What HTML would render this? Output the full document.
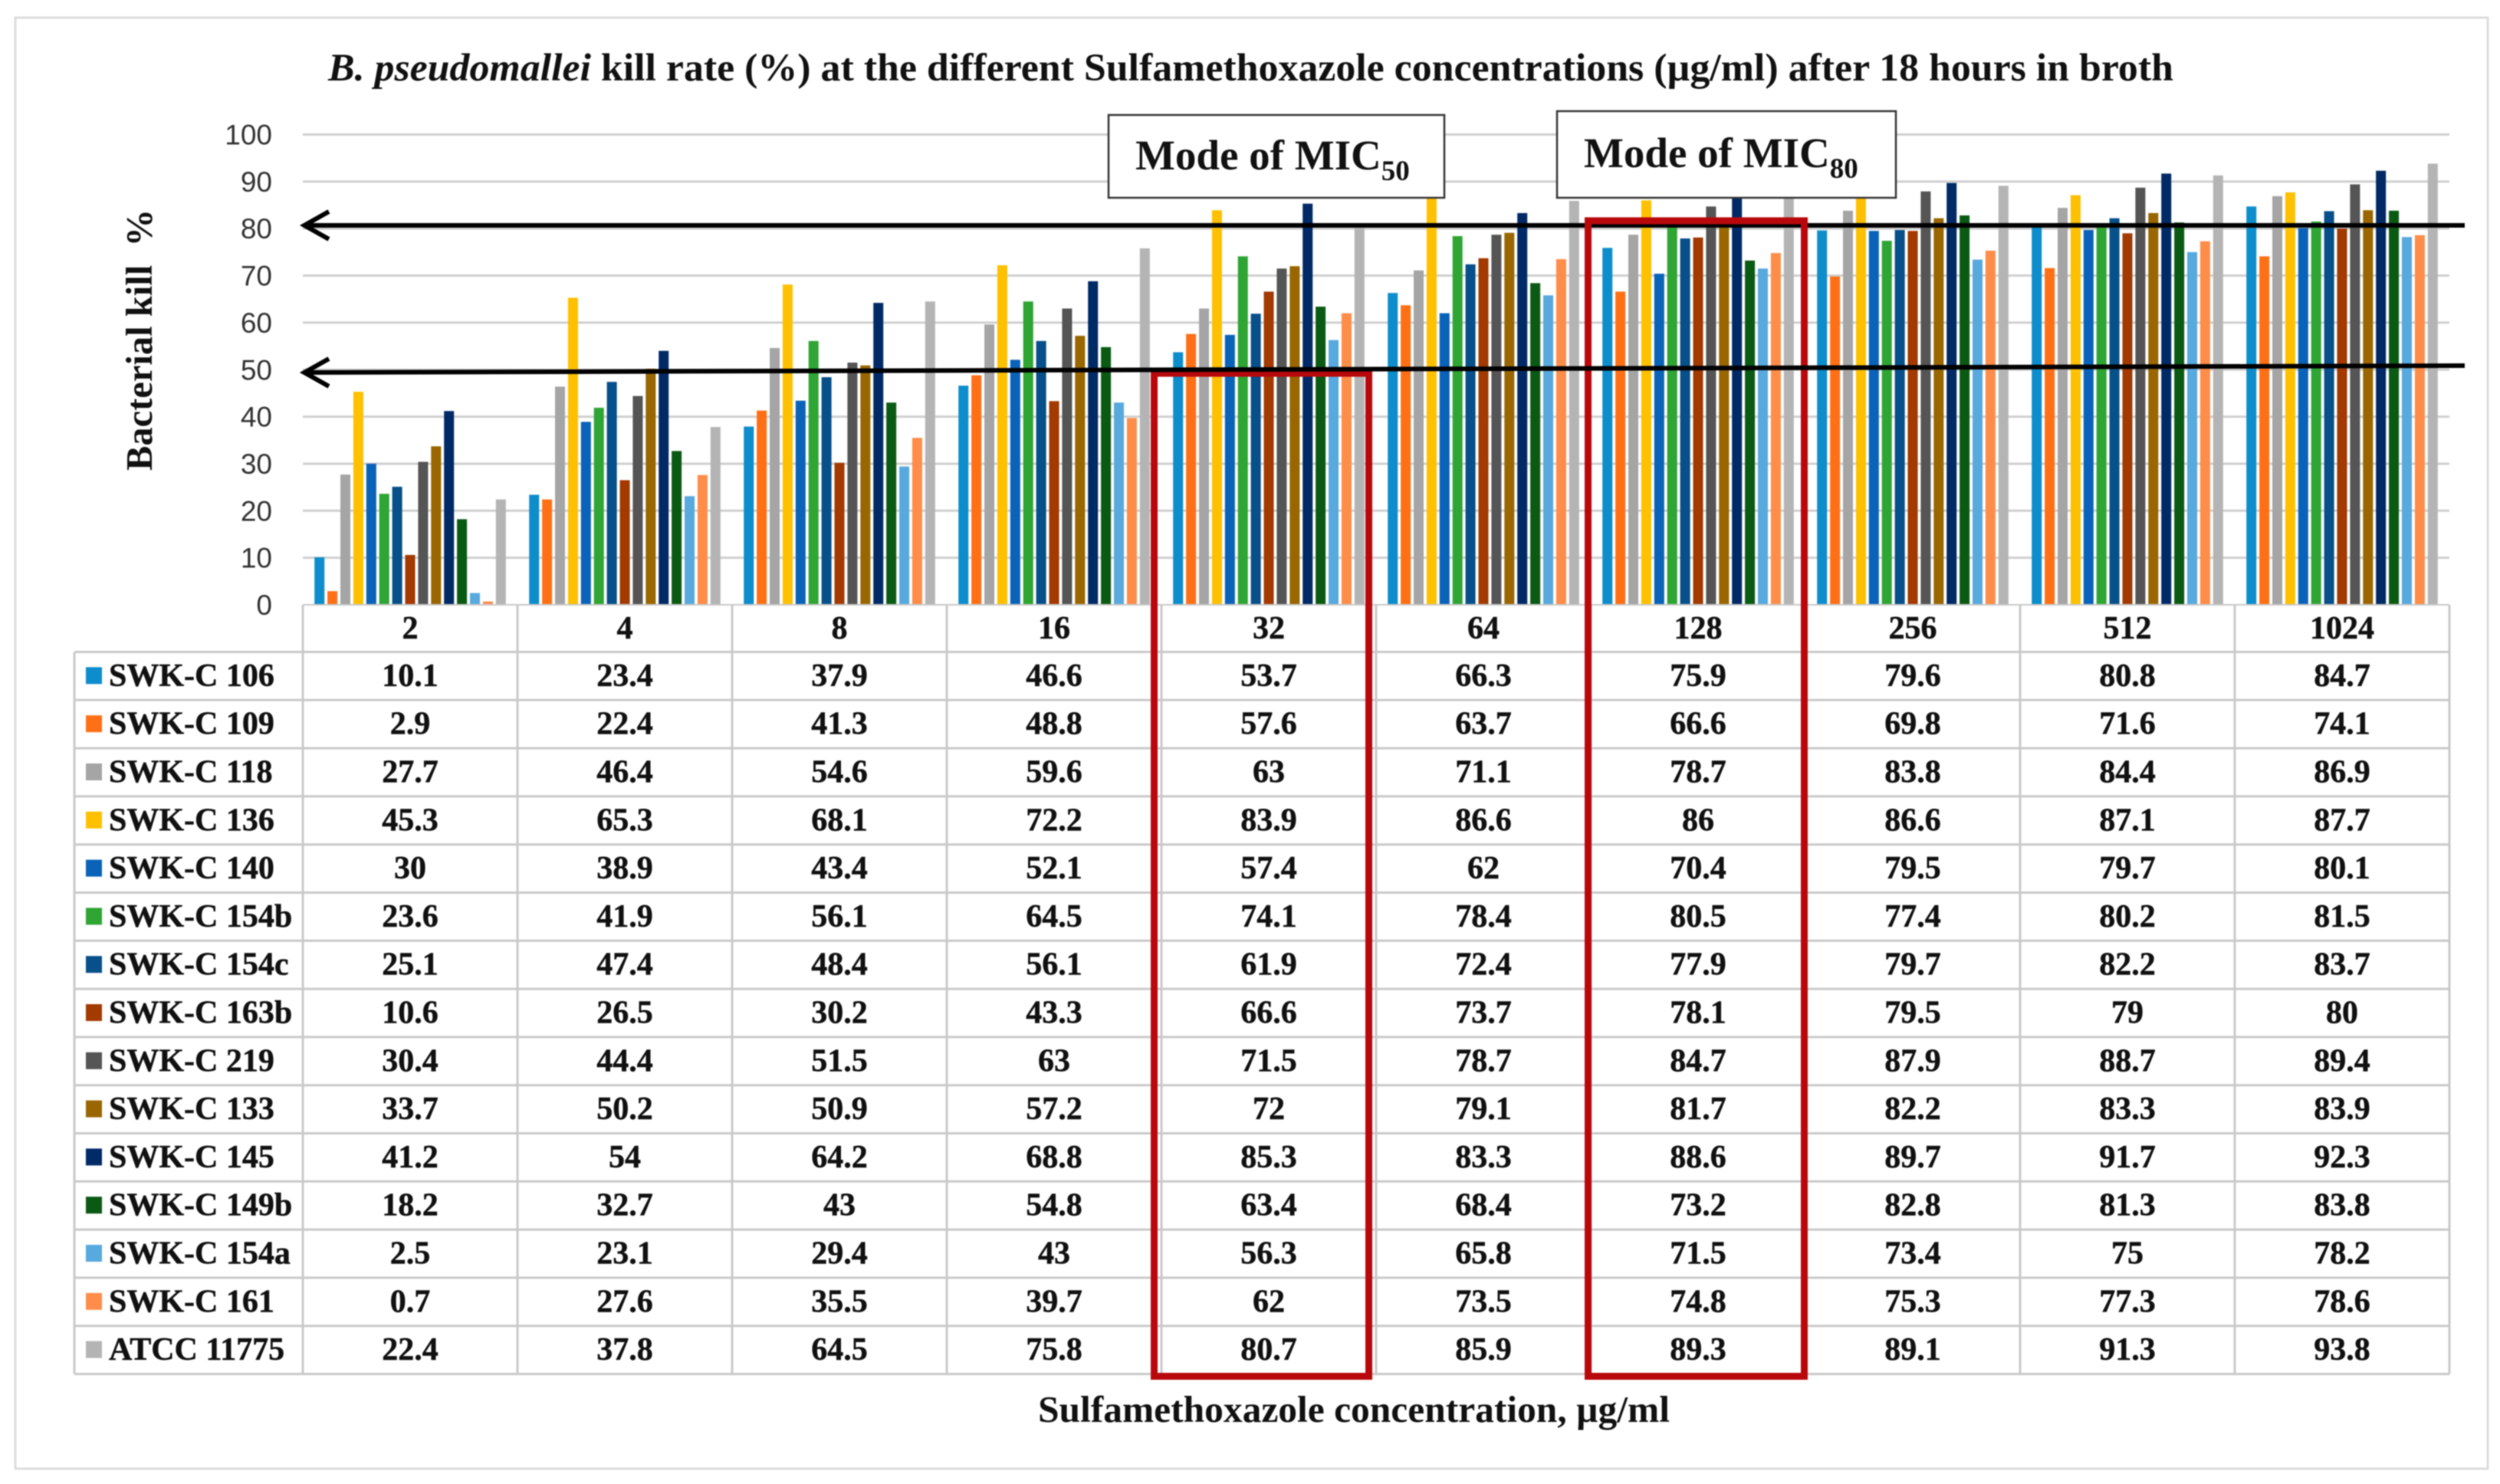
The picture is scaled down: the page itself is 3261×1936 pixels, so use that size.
<!DOCTYPE html>
<html lang="en">
<head>
<meta charset="utf-8">
<title>B. pseudomallei kill rate chart</title>
<style>
html,body{margin:0;padding:0;background:#fff;}
#chart-svg{display:block;width:3261px;height:1936px;font-family:"Liberation Serif",serif;filter:blur(0.7px);}
</style>
</head>
<body>
<svg id="chart-svg" xmlns="http://www.w3.org/2000/svg" width="3261" height="1936" viewBox="0 0 3261 1936">
  <rect x="20" y="23" width="3225" height="1893" fill="#fff" stroke="#dcdcdc" stroke-width="3"/>
  <text x="428" y="105" font-size="51" font-weight="bold" fill="#111" textLength="2407" lengthAdjust="spacingAndGlyphs"><tspan font-style="italic">B. pseudomallei</tspan> kill rate (%) at the different Sulfamethoxazole concentrations (µg/ml) after 18 hours in broth</text>
  <text transform="translate(198,614) rotate(-90)" font-size="49" font-weight="bold" fill="#111" xml:space="preserve" textLength="341" lengthAdjust="spacingAndGlyphs">Bacterial kill  %</text>
  <g id="grid-layer"></g>
  <g id="tick-layer"></g>
  <g id="bar-layer"></g>
  <g id="table-layer"></g>
  <g fill="none" stroke="#000">
    <line x1="397" y1="294" x2="3215" y2="294" stroke-width="6"/>
    <polyline points="429,276 397,294 429,312" stroke-width="6"/>
  </g>
  <rect x="1505.5" y="487" width="280" height="1308.5" fill="none" stroke="#b8080c" stroke-width="9"/>
  <rect x="2071.5" y="288" width="282" height="1507.5" fill="none" stroke="#b8080c" stroke-width="9"/>
  <g fill="none" stroke="#000">
    <line x1="397" y1="486" x2="3215" y2="477" stroke-width="6"/>
    <polyline points="429,468 397,486 429,504" stroke-width="6"/>
  </g>
  <g>
    <rect x="1446" y="150" width="438" height="108" fill="#fff" stroke="#333" stroke-width="2.5"/>
    <text x="1481" y="221" font-size="55" font-weight="bold" fill="#111">Mode of MIC<tspan font-size="37" dy="14">50</tspan></text>
  </g>
  <g>
    <rect x="2031" y="145" width="442" height="113" fill="#fff" stroke="#333" stroke-width="2.5"/>
    <text x="2066" y="218" font-size="55" font-weight="bold" fill="#111">Mode of MIC<tspan font-size="37" dy="14">80</tspan></text>
  </g>
  <text x="1354" y="1855" font-size="49" font-weight="bold" fill="#111" textLength="824" lengthAdjust="spacingAndGlyphs">Sulfamethoxazole concentration, µg/ml</text>
</svg>
<script>
const categories = ['2','4','8','16','32','64','128','256','512','1024'];
const yTickLabels = [0,10,20,30,40,50,60,70,80,90,100];
const seriesNames = ['SWK-C 106','SWK-C 109','SWK-C 118','SWK-C 136','SWK-C 140','SWK-C 154b','SWK-C 154c','SWK-C 163b','SWK-C 219','SWK-C 133','SWK-C 145','SWK-C 149b','SWK-C 154a','SWK-C 161','ATCC 11775'];
const swkC106 = [10.1,23.4,37.9,46.6,53.7,66.3,75.9,79.6,80.8,84.7];
const swkC109 = [2.9,22.4,41.3,48.8,57.6,63.7,66.6,69.8,71.6,74.1];
const swkC118 = [27.7,46.4,54.6,59.6,63,71.1,78.7,83.8,84.4,86.9];
const swkC136 = [45.3,65.3,68.1,72.2,83.9,86.6,86,86.6,87.1,87.7];
const swkC140 = [30,38.9,43.4,52.1,57.4,62,70.4,79.5,79.7,80.1];
const swkC154b = [23.6,41.9,56.1,64.5,74.1,78.4,80.5,77.4,80.2,81.5];
const swkC154c = [25.1,47.4,48.4,56.1,61.9,72.4,77.9,79.7,82.2,83.7];
const swkC163b = [10.6,26.5,30.2,43.3,66.6,73.7,78.1,79.5,79,80];
const swkC219 = [30.4,44.4,51.5,63,71.5,78.7,84.7,87.9,88.7,89.4];
const swkC133 = [33.7,50.2,50.9,57.2,72,79.1,81.7,82.2,83.3,83.9];
const swkC145 = [41.2,54,64.2,68.8,85.3,83.3,88.6,89.7,91.7,92.3];
const swkC149b = [18.2,32.7,43,54.8,63.4,68.4,73.2,82.8,81.3,83.8];
const swkC154a = [2.5,23.1,29.4,43,56.3,65.8,71.5,73.4,75,78.2];
const swkC161 = [0.7,27.6,35.5,39.7,62,73.5,74.8,75.3,77.3,78.6];
const atcc11775 = [22.4,37.8,64.5,75.8,80.7,85.9,89.3,89.1,91.3,93.8];

const allSeries = [swkC106,swkC109,swkC118,swkC136,swkC140,swkC154b,swkC154c,swkC163b,swkC219,swkC133,swkC145,swkC149b,swkC154a,swkC161,atcc11775];
const palette = ['#0d8dcc','#ff7016','#a5a5a5','#ffc000','#0a63b9','#2fa534','#07508a','#a33a00','#555555','#996600','#002a66','#0b5a14','#57a9de','#ff8d4a','#b4b4b4'];

const NS = 'http://www.w3.org/2000/svg';
const plotLeft = 395, catWidth = 280, zeroY = 789, unitY = 6.135, barStep = 16.9, barWidth = 13;
const tableLeft = 97, headerBottom = 850.5, rowHeight = 62.8, gridColor = '#c9c9c9';
function yScale(v){ return zeroY - v * unitY; }
function catX(i){ return plotLeft + i * catWidth; }
function barX(c, s){
  const center = catX(c) + catWidth / 2;
  return center + (s - (allSeries.length - 1) / 2) * barStep - barWidth / 2;
}
function make(tag, attrs, parent, txt){
  const el = document.createElementNS(NS, tag);
  for (const k in attrs) el.setAttribute(k, attrs[k]);
  if (txt !== undefined) el.textContent = txt;
  parent.appendChild(el);
  return el;
}
const gridLayer = document.getElementById('grid-layer');
const tickLayer = document.getElementById('tick-layer');
const barLayer = document.getElementById('bar-layer');
const tableLayer = document.getElementById('table-layer');
const plotRight = catX(categories.length);
const boldText = {'font-size': 42, 'font-weight': 'bold', fill: '#111', stroke: '#111', 'stroke-width': 0.5};

yTickLabels.forEach(function(t){
  if (t > 0) {
    const g = make('line', {x1: plotLeft, x2: plotRight, y1: yScale(t), y2: yScale(t), stroke: '#cfcfcf', 'stroke-width': 3}, gridLayer);
    
    
  }
  const lab = make('text', {x: 355, y: yScale(t) + 13, 'text-anchor': 'end', 'font-size': 37, fill: '#333', 'font-family': '"Liberation Sans",sans-serif'}, tickLayer, String(t));
  
  
});

allSeries.forEach(function(vals, s){
  vals.forEach(function(v, c){
    const b = make('rect', {x: barX(c, s), y: yScale(v), width: barWidth, height: v * unitY, fill: palette[s]}, barLayer);
    
    
  });
});

const tableBottom = headerBottom + rowHeight * seriesNames.length;
for (let r = 0; r <= seriesNames.length; r++) {
  const y = headerBottom + r * rowHeight;
  const l = make('line', {x1: tableLeft, x2: plotRight, y1: y, y2: y, stroke: gridColor, 'stroke-width': 3}, tableLayer);
  
  
}
const topLine = make('line', {x1: plotLeft, x2: plotRight, y1: zeroY, y2: zeroY, stroke: gridColor, 'stroke-width': 2}, tableLayer);


const leftLine = make('line', {x1: tableLeft, x2: tableLeft, y1: headerBottom, y2: tableBottom, stroke: gridColor, 'stroke-width': 3}, tableLayer);


for (let c = 0; c <= categories.length; c++) {
  const v = make('line', {x1: catX(c), x2: catX(c), y1: zeroY, y2: tableBottom, stroke: gridColor, 'stroke-width': 3}, tableLayer);
  
  
}
categories.forEach(function(cat, c){
  const h = make('text', Object.assign({x: catX(c) + catWidth / 2, y: 833, 'text-anchor': 'middle'}, boldText), tableLayer, cat);
  
  
});
seriesNames.forEach(function(name, s){
  const cy = headerBottom + s * rowHeight + rowHeight / 2;
  const sw = make('rect', {x: 112, y: cy - 11.5, width: 21, height: 22, fill: palette[s]}, tableLayer);
  
  
  const t = make('text', Object.assign({x: 142, y: cy + 13}, boldText), tableLayer, name);
  
  
  allSeries[s].forEach(function(v, c){
    const cell = make('text', Object.assign({x: catX(c) + catWidth / 2, y: cy + 13, 'text-anchor': 'middle'}, boldText), tableLayer, String(v));
    
    
  });
});
</script>
</body>
</html>
